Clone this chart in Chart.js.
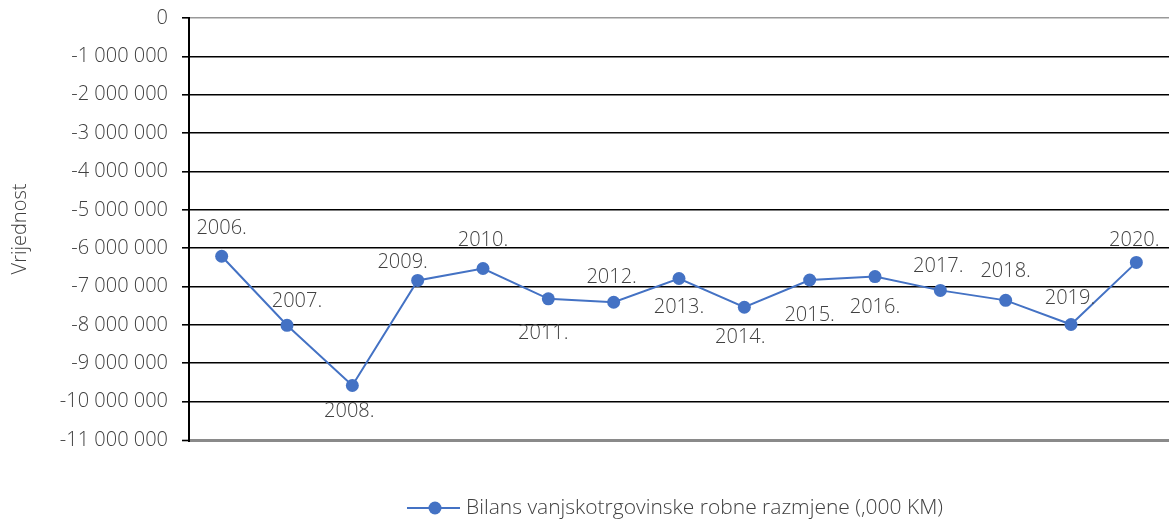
<!DOCTYPE html>
<html><head><meta charset="utf-8">
<script src="https://cdn.jsdelivr.net/npm/chart.js@4.4.1/dist/chart.umd.min.js"></script>
<style>html,body{margin:0;padding:0;background:#fff;}</style>
</head><body>
<canvas id="c" width="1169" height="525" style="display:block;width:1169px;height:525px"></canvas>
<script>
const years = ['2006.','2007.','2008.','2009.','2010.','2011.','2012.','2013.','2014.','2015.','2016.','2017.','2018.','2019.','2020.'];
const balance = [-6210000,-8010000,-9580000,-6840000,-6530000,-7320000,-7410000,-6790000,-7540000,-6830000,-6740000,-7100000,-7360000,-7990000,-6370000];
const yMin = -11000000;
const yMax = 0;
const yStep = 1000000;
const seriesName = 'Bilans vanjskotrgovinske robne razmjene (,000 KM)';
const axisTitle = 'Vrijednost';
// label placement relative to each point (pixels)
const labelShiftX = [0,10,-3,-15,0,-5,-2,0,-4,0,0,-2,0,-1,-2];
const labelShiftY = [-28,-24,26,-18,-28,34,-25,29,30,35,31,-24,-29,-26,-22];

const FONT = "'Open Sans', 'Noto Sans', sans-serif";
const TXT = '#404040';
const BLUE = '#4472C4';

function fmt(v){
  const s = String(Math.abs(v)).replace(/\B(?=(\d{3})+(?!\d))/g,' ');
  return (v < 0 ? '-' : '') + s;
}

const labelPlugin = {
  id: 'yearLabels',
  afterDatasetsDraw(chart){
    const ctx = chart.ctx;
    const meta = chart.getDatasetMeta(0);
    ctx.save();
    ctx.font = '300 20px ' + FONT;
    ctx.fillStyle = TXT;
    ctx.textAlign = 'center';
    ctx.textBaseline = 'middle';
    meta.data.forEach((pt, i) => {
      ctx.fillText(years[i], pt.x + labelShiftX[i], pt.y + labelShiftY[i]);
    });
    ctx.restore();
  }
};

const legendPlugin = {
  id: 'customLegend',
  afterDraw(chart){
    const ctx = chart.ctx;
    ctx.save();
    ctx.font = '300 21px ' + FONT;
    const tw = ctx.measureText(seriesName).width;
    const total = 59 + tw;
    const cx = 675;
    const y = 508;
    const x0 = cx - total/2;
    ctx.strokeStyle = BLUE;
    ctx.lineWidth = 2;
    ctx.beginPath(); ctx.moveTo(x0, y); ctx.lineTo(x0 + 53, y); ctx.stroke();
    ctx.fillStyle = BLUE;
    ctx.beginPath(); ctx.arc(x0 + 28, y, 6.5, 0, Math.PI*2); ctx.fill();
    ctx.fillStyle = TXT;
    ctx.textAlign = 'left';
    ctx.textBaseline = 'middle';
    ctx.fillText(seriesName, x0 + 59, y);
    ctx.restore();
  }
};

new Chart(document.getElementById('c'), {
  type: 'line',
  data: {
    labels: years,
    datasets: [{
      label: seriesName,
      data: balance,
      borderColor: BLUE,
      backgroundColor: BLUE,
      borderWidth: 2,
      pointRadius: 6.5,
      pointHoverRadius: 6.5,
      pointBorderWidth: 0,
      tension: 0
    }]
  },
  options: {
    responsive: false,
    devicePixelRatio: 1,
    animation: false,
    layout: { autoPadding: false, padding: { left: 0, right: 0, top: 18, bottom: 85 } },
    plugins: { legend: { display: false }, tooltip: { enabled: false } },
    scales: {
      x: { display: false, offset: true },
      y: {
        min: yMin, max: yMax,
        ticks: {
          stepSize: yStep,
          color: TXT,
          font: { family: FONT, size: 20, weight: 300 },
          padding: 14,
          callback: v => fmt(v)
        },
        grid: {
          color: c => c.tick.value === yMin ? '#8a8a8a' : (c.tick.value === yMax ? '#999' : '#000'),
          lineWidth: c => c.tick.value === yMin ? 3 : 1.6,
          tickColor: '#000',
          tickLength: 7,
          tickWidth: 1.6
        },
        border: { color: '#000', width: 2 },
        title: {
          display: true,
          text: axisTitle,
          color: TXT,
          font: { family: FONT, size: 20, weight: 300 },
          padding: { top: 8, bottom: 0 }
        },
        afterFit: s => { s.width = 189; s.paddingTop = 0; s.paddingBottom = 0; }
      }
    }
  },
  plugins: [labelPlugin, legendPlugin]
});
</script>
</body></html>
